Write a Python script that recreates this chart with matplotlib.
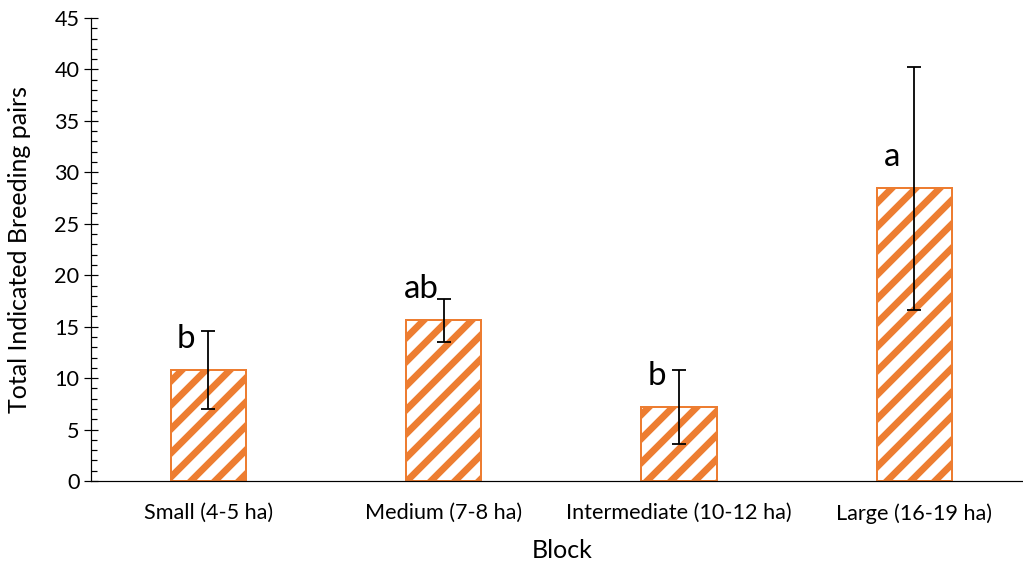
import matplotlib
matplotlib.use("Agg")
import matplotlib.pyplot as plt
from matplotlib.ticker import MultipleLocator

categories = ["Small (4-5 ha)", "Medium (7-8 ha)", "Intermediate (10-12 ha)", "Large (16-19 ha)"]
means = [10.8, 15.6, 7.2, 28.45]
errors = [3.8, 2.1, 3.6, 11.8]
letters = ["b", "ab", "b", "a"]
yticks = [0, 5, 10, 15, 20, 25, 30, 35, 40, 45]

DPI = 144
W, H = 1023, 565
plt.rcParams['font.family'] = ['Lato', 'DejaVu Sans']
plt.rcParams['hatch.linewidth'] = 3.4

fig = plt.figure(figsize=(W / DPI, H / DPI), dpi=DPI)
left = 90.5 / W
width = 941.5 / W
bottom = (H - 481) / H
height = 463 / H
ax = fig.add_axes([left, bottom, width, height])

orange = "#ED7D31"
x = list(range(len(categories)))
ax.bar(x, means, width=0.32, color="white", edgecolor=orange, hatch="//", linewidth=1.0, zorder=2)
ax.errorbar(x, means, yerr=errors, fmt="none", ecolor="black", elinewidth=0.9,
            capsize=3.5, capthick=0.9, zorder=3)

for xi, m, lab in zip(x, means, letters):
    ax.annotate(lab, xy=(xi, m), xytext=(-11, 11), textcoords="offset points",
                ha="center", va="baseline", fontsize=16.5, color="black")

ax.set_xlim(-0.5, 3.5)
ax.set_ylim(0, 45)
ax.set_yticks(yticks)
ax.yaxis.set_minor_locator(MultipleLocator(1))
ax.set_xticks(x)
ax.set_xticklabels(categories, fontsize=10.8)
ax.tick_params(axis="x", length=0, pad=11)
ax.tick_params(axis="y", which="major", direction="inout", length=7, width=0.6, labelsize=10.8, pad=2)
ax.tick_params(axis="y", which="minor", direction="in", length=3, width=0.6)

for s in ["top", "right"]:
    ax.spines[s].set_visible(False)
for s in ["left", "bottom"]:
    ax.spines[s].set_linewidth(0.6)
    ax.spines[s].set_color("black")

ax.set_ylabel("Total Indicated Breeding pairs", fontsize=12.5)
ax.yaxis.set_label_coords(-(90.5 - 31) / 941.5, 0.5)
fig.text(562 / W, 1 - 550 / H, "Block", fontsize=12.5, ha="center", va="center")

fig.savefig("out.png", dpi=DPI)
